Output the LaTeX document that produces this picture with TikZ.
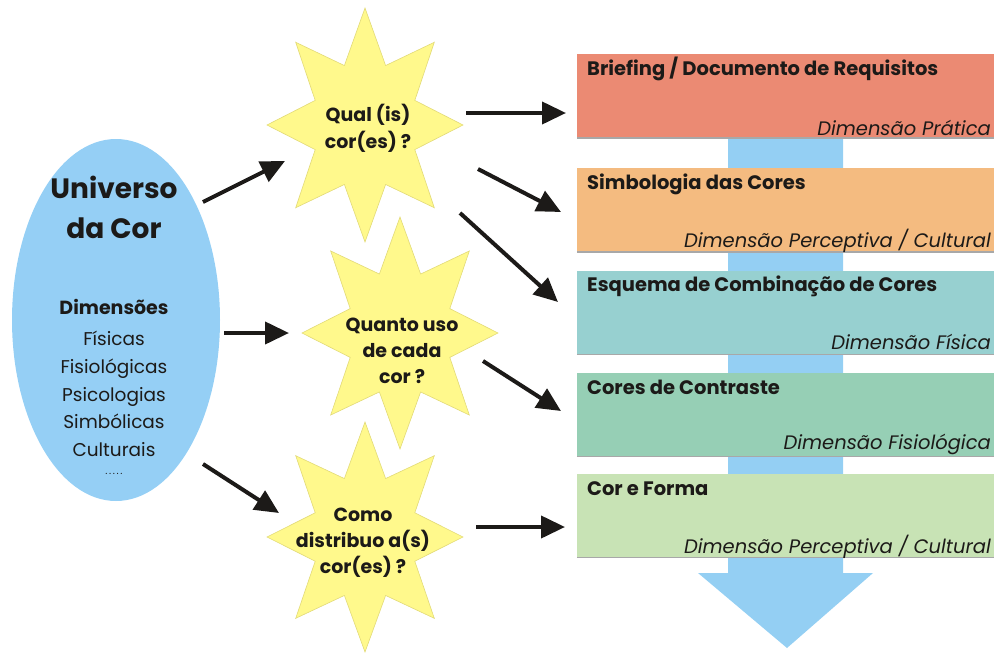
\documentclass[tikz,border=0pt]{standalone}
\usepackage{fontspec}
\setmainfont{Poppins}
\usetikzlibrary{arrows.meta,shapes.geometric}
\definecolor{ellblue}{HTML}{95CFF5}
\definecolor{flowblue}{HTML}{94CFF3}
\definecolor{starfill}{HTML}{FFF98C}
\definecolor{starline}{HTML}{E2DA78}
\definecolor{inkdark}{HTML}{1C1A18}
\definecolor{boxA}{HTML}{EB8A73}
\definecolor{boxB}{HTML}{F4BB80}
\definecolor{boxC}{HTML}{97D0D0}
\definecolor{boxD}{HTML}{96CFB5}
\definecolor{boxE}{HTML}{C8E3B5}
\definecolor{edgegray}{HTML}{A8A8A8}
\begin{document}
\begin{tikzpicture}[x=1pt,y=-1pt,
  conn/.style={draw=inkdark,line width=4pt,-{Triangle[length=24pt,width=22pt]}},
  stepbox/.style={rectangle,inner sep=0pt,minimum width=417pt,minimum height=84pt},
  titletext/.style={anchor=west,inner sep=0pt,text=inkdark,font=\bfseries\fontsize{19.5}{22}\selectfont},
  dimtext/.style={anchor=east,inner sep=0pt,text=inkdark,font=\itshape\fontsize{19.5}{22}\selectfont},
  startext/.style={align=center,inner sep=0pt,text=inkdark,font=\bfseries\fontsize{19}{26}\selectfont},
  starpoly/.style={fill=starfill,draw=starline,line width=0.6pt}
]
\useasboundingbox (0,0) rectangle (994,659);

% blue flow arrow behind boxes
\fill[flowblue] (728,130) -- (843,130) -- (843,573) -- (873,573) -- (787,648) -- (698,573) -- (728,573) -- cycle;

% boxes
\node[stepbox,fill=boxA] (b1) at (785.5,96) {};
\node[stepbox,fill=boxB] (b2) at (785.5,210) {};
\node[stepbox,fill=boxC] (b3) at (785.5,312.5) {};
\node[stepbox,fill=boxD] (b4) at (785.5,414.5) {};
\node[stepbox,fill=boxE] (b5) at (785.5,515.5) {};
\foreach \b in {b1,b2,b3,b4,b5}{
  \draw[edgegray,line width=1.5pt] (\b.south west) -- (\b.south east);
}
\node[titletext] (t1) at (587,69) {Briefing / Documento de Requisitos};
\node[dimtext] (d1) at (991,128) {Dimensão Prática};
\node[titletext] (t2) at (587,184) {Simbologia das Cores};
\node[dimtext] (d2) at (991,241) {Dimensão Perceptiva / Cultural};
\node[titletext] (t3) at (587,286) {Esquema de Combinação de Cores};
\node[dimtext] (d3) at (991,342) {Dimensão Física};
\node[titletext] (t4) at (587,387) {Cores de Contraste};
\node[dimtext] (d4) at (991,444) {Dimensão Fisiológica};
\node[titletext] (t5) at (587,489) {Cor e Forma};
\node[dimtext] (d5) at (991,547) {Dimensão Perceptiva / Cultural};

% ellipse
\node[ellipse,fill=ellblue,inner sep=0pt,minimum width=208pt,minimum height=362pt] (univ) at (116,320) {};
\node[align=center,inner sep=0pt,text=inkdark,font=\bfseries\fontsize{28}{40}\selectfont] (utitle) at (114,207) {Universo\\da Cor};
\node[inner sep=0pt,text=inkdark,font=\bfseries\fontsize{19}{22}\selectfont] (udim) at (114,307) {Dimensões};
\node[align=center,inner sep=0pt,text=inkdark,font=\fontsize{18.5}{27.7}\selectfont] (ulist) at (114,394) {Físicas\\Fisiológicas\\Psicologias\\Simbólicas\\Culturais};
\node[inner sep=0pt,text=inkdark,font=\fontsize{10}{10}\selectfont] (udots) at (114,474) {.\,.\,.\,.\,.};

% stars
\foreach \cx/\cy/\rx/\ry in {365/125/98/117, 400/333/98/116, 365/537/98/115}{
  \fill[starpoly] plot[samples at={0,22.5,...,337.5}] (
    {\cx+\rx*cos(\x)*(mod(round(\x/22.5),2)==0 ? 1 : 0.55)},
    {\cy-\ry*sin(\x)*(mod(round(\x/22.5),2)==0 ? 1 : 0.55)}) -- cycle;
}
\node[startext,font=\bfseries\fontsize{19}{27}\selectfont] (q1) at (368,128) {Qual (is)\\cor(es) ?};
\node[startext] (q2) at (402,351) {Quanto uso\\de cada\\cor ?};
\node[startext] (q3) at (363,543) {Como\\distribuo a(s)\\cor(es) ?};

% arrow endpoints
\coordinate (a1s) at (203,202); \coordinate (a1e) at (285,161);
\coordinate (a2s) at (224,333); \coordinate (a2e) at (289,333);
\coordinate (a3s) at (203,464); \coordinate (a3e) at (279,513);
\coordinate (a4s) at (466,113); \coordinate (a4e) at (566,113);
\coordinate (a5s) at (478,169); \coordinate (a5e) at (561,212);
\coordinate (a6s) at (460,213); \coordinate (a6e) at (558,302);
\coordinate (a7s) at (483,361); \coordinate (a7e) at (561,411);
\coordinate (a8s) at (476,527); \coordinate (a8e) at (565,527);
\foreach \n in {1,...,8}{ \draw[conn] (a\n s) -- (a\n e); }
\end{tikzpicture}
\end{document}
